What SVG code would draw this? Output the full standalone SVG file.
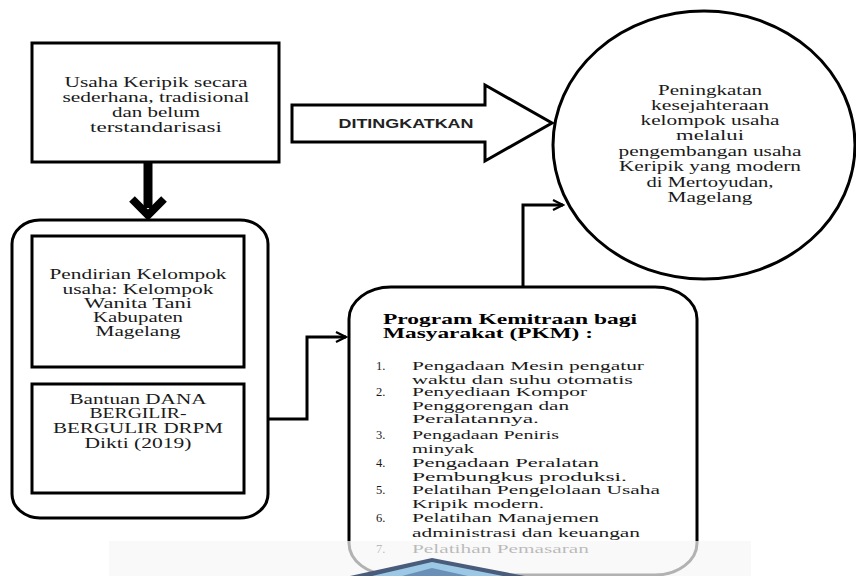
<svg xmlns="http://www.w3.org/2000/svg" width="856" height="576" viewBox="0 0 856 576">
<style>
.box{fill:#fff;stroke:#000;stroke-width:3}
.t{font-family:"Liberation Serif","Times New Roman",serif;font-size:14px;fill:#1a1a1a;text-anchor:middle}
.l{font-family:"Liberation Serif","Times New Roman",serif;font-size:12.5px;fill:#1a1a1a}
.b{font-weight:bold;font-size:14px;fill:#000}
.con{fill:none;stroke:#000;stroke-width:3}
</style>
<defs>
<marker id="arr" markerUnits="userSpaceOnUse" markerWidth="14" markerHeight="14" refX="12" refY="7" orient="auto">
<path d="M2,2 L12,7 L2,12" fill="none" stroke="#000" stroke-width="2.2"/>
</marker>
</defs>
<rect width="856" height="576" fill="#fff"/>

<g id="node-usaha">
<rect class="box" x="32" y="43" width="247" height="119"/>
<text class="t" x="156" y="87" textLength="183" lengthAdjust="spacingAndGlyphs">Usaha Keripik secara</text>
<text class="t" x="156" y="102" textLength="187" lengthAdjust="spacingAndGlyphs">sederhana, tradisional</text>
<text class="t" x="156" y="117" textLength="88" lengthAdjust="spacingAndGlyphs">dan belum</text>
<text class="t" x="156" y="132" textLength="132" lengthAdjust="spacingAndGlyphs">terstandarisasi</text>
</g>

<g id="node-ditingkatkan">
<polygon points="292,105 485,105 485,85 552,123 485,161 485,142 292,142" fill="#fff" stroke="#000" stroke-width="3" stroke-linejoin="miter"/>
<text x="406" y="128" font-family="'Liberation Sans',Arial,sans-serif" font-weight="bold" font-size="12" fill="#222" text-anchor="middle" textLength="135" lengthAdjust="spacingAndGlyphs">DITINGKATKAN</text>
</g>

<g id="node-tujuan">
<ellipse cx="704" cy="145" rx="151" ry="134" fill="#fff" stroke="#000" stroke-width="3"/>
<text class="t" x="710" y="95" textLength="104" lengthAdjust="spacingAndGlyphs">Peningkatan</text>
<text class="t" x="710" y="110" textLength="118" lengthAdjust="spacingAndGlyphs">kesejahteraan</text>
<text class="t" x="710" y="125" textLength="139" lengthAdjust="spacingAndGlyphs">kelompok usaha</text>
<text class="t" x="710" y="140" textLength="68" lengthAdjust="spacingAndGlyphs">melalui</text>
<text class="t" x="710" y="156" textLength="183" lengthAdjust="spacingAndGlyphs">pengembangan usaha</text>
<text class="t" x="710" y="171" textLength="182" lengthAdjust="spacingAndGlyphs">Keripik yang modern</text>
<text class="t" x="710" y="187" textLength="127" lengthAdjust="spacingAndGlyphs">di Mertoyudan,</text>
<text class="t" x="710" y="202" textLength="85" lengthAdjust="spacingAndGlyphs">Magelang</text>
</g>

<g id="node-kelompok">
<rect x="12" y="220" width="256" height="298" rx="28" ry="24" fill="#fff" stroke="#000" stroke-width="3"/>
</g>

<g id="node-pendirian">
<rect class="box" x="32" y="236" width="212" height="131"/>
<text class="t" x="138" y="279" textLength="177" lengthAdjust="spacingAndGlyphs">Pendirian Kelompok</text>
<text class="t" x="138" y="294" textLength="151" lengthAdjust="spacingAndGlyphs">usaha: Kelompok</text>
<text class="t" x="138" y="308" textLength="108" lengthAdjust="spacingAndGlyphs">Wanita Tani</text>
<text class="t" x="138" y="322" textLength="90" lengthAdjust="spacingAndGlyphs">Kabupaten</text>
<text class="t" x="138" y="336" textLength="85" lengthAdjust="spacingAndGlyphs">Magelang</text>
</g>

<g id="node-bantuan">
<rect class="box" x="32" y="384" width="212" height="109"/>
<text class="t" x="138" y="404" textLength="137" lengthAdjust="spacingAndGlyphs">Bantuan DANA</text>
<text class="t" x="138" y="418" textLength="97" lengthAdjust="spacingAndGlyphs">BERGILIR-</text>
<text class="t" x="138" y="433" textLength="170" lengthAdjust="spacingAndGlyphs">BERGULIR DRPM</text>
<text class="t" x="138" y="448" textLength="107" lengthAdjust="spacingAndGlyphs">Dikti (2019)</text>
</g>

<g id="node-pkm">
<rect x="349" y="287" width="348" height="288" rx="42" ry="32" fill="#fff" stroke="#000" stroke-width="3"/>
<text class="l b" x="383" y="324" textLength="254" lengthAdjust="spacingAndGlyphs">Program Kemitraan bagi</text>
<text class="l b" x="383" y="338" textLength="210" lengthAdjust="spacingAndGlyphs">Masyarakat (PKM) :</text>
<text class="l" x="376" y="370">1.</text>
<text class="l" x="412" y="370" textLength="232" lengthAdjust="spacingAndGlyphs">Pengadaan Mesin pengatur</text>
<text class="l" x="412" y="383.5" textLength="221" lengthAdjust="spacingAndGlyphs">waktu dan suhu otomatis</text>
<text class="l" x="376" y="396">2.</text>
<text class="l" x="412" y="396" textLength="175" lengthAdjust="spacingAndGlyphs">Penyediaan Kompor</text>
<text class="l" x="412" y="409.5" textLength="157" lengthAdjust="spacingAndGlyphs">Penggorengan dan</text>
<text class="l" x="412" y="423" textLength="127" lengthAdjust="spacingAndGlyphs">Peralatannya.</text>
<text class="l" x="376" y="439">3.</text>
<text class="l" x="412" y="439" textLength="147" lengthAdjust="spacingAndGlyphs">Pengadaan Peniris</text>
<text class="l" x="412" y="453" textLength="62" lengthAdjust="spacingAndGlyphs">minyak</text>
<text class="l" x="376" y="467">4.</text>
<text class="l" x="412" y="467" textLength="187" lengthAdjust="spacingAndGlyphs">Pengadaan Peralatan</text>
<text class="l" x="412" y="480.5" textLength="215" lengthAdjust="spacingAndGlyphs">Pembungkus produksi.</text>
<text class="l" x="376" y="494">5.</text>
<text class="l" x="412" y="494" textLength="248" lengthAdjust="spacingAndGlyphs">Pelatihan Pengelolaan Usaha</text>
<text class="l" x="412" y="508" textLength="132" lengthAdjust="spacingAndGlyphs">Kripik modern.</text>
<text class="l" x="376" y="522">6.</text>
<text class="l" x="412" y="522" textLength="187" lengthAdjust="spacingAndGlyphs">Pelatihan Manajemen</text>
<text class="l" x="412" y="537" textLength="228" lengthAdjust="spacingAndGlyphs">administrasi dan keuangan</text>
<text class="l" x="376" y="553">7.</text>
<text class="l" x="412" y="553" textLength="177" lengthAdjust="spacingAndGlyphs">Pelatihan Pemasaran</text>
</g>

<g id="connectors">
<line x1="148" y1="162" x2="148" y2="208" stroke="#000" stroke-width="9"/>
<polyline points="132,199 148,215 164,199" fill="none" stroke="#000" stroke-width="8" stroke-linejoin="miter"/>
<polyline class="con" points="268,419 307,419 307,337 346,337" marker-end="url(#arr)"/>
<polyline class="con" points="523,287 523,205 563,205" marker-end="url(#arr)"/>
</g>

<g id="watermark">
<rect x="109" y="541" width="642" height="35" fill="#f7f7f7" fill-opacity="0.72"/>
<polygon points="350,576 432,558 525,576" fill="#4a5c7c"/>
<polygon points="372,576 432,562 503,576" fill="#9cc8e6"/>
<polygon points="402,576 432,568 468,576" fill="#6b90b8"/>
</g>
</svg>
